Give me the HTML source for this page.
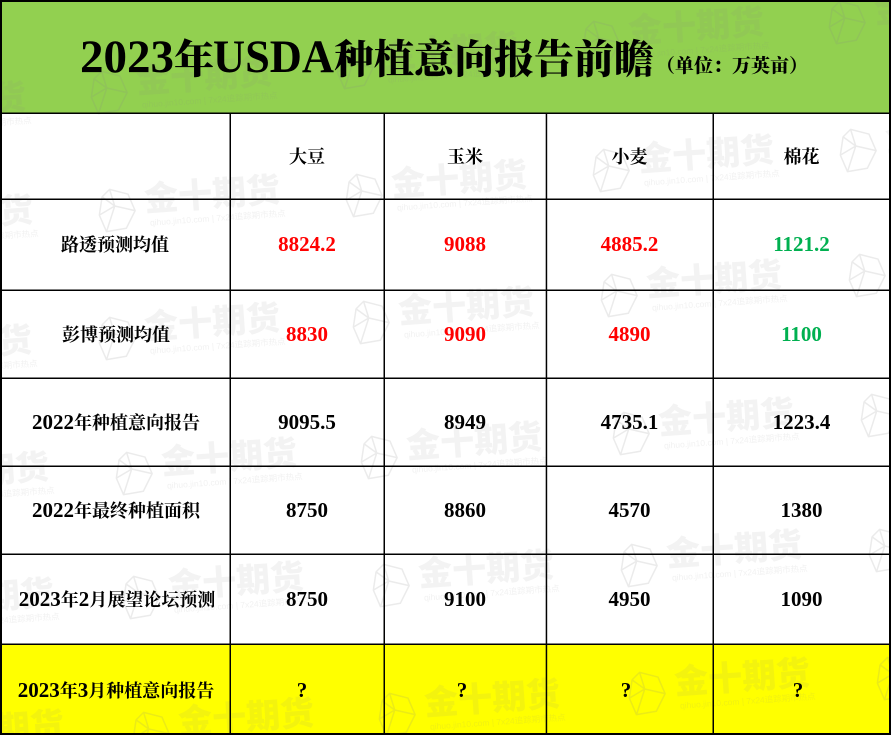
<!DOCTYPE html>
<html>
<head>
<meta charset="utf-8">
<style>
  html, body { margin:0; padding:0; background:#ffffff; }
  body { width:891px; height:735px; overflow:hidden; }
  svg { display:block; }
  .wm { fill:#8a8a8a; fill-opacity:0.10; font-family:"Liberation Sans","Noto Sans CJK SC",sans-serif; font-weight:900; }
  .wmi { fill:none; stroke:#8a8a8a; stroke-opacity:0.17; stroke-width:1.5; stroke-linejoin:round; }
  .wmu { fill:#8a8a8a; fill-opacity:0.12; font-family:"Liberation Sans","Noto Sans CJK SC",sans-serif; font-size:8.5px; }
  .cell { font-family:"Liberation Serif","Noto Serif CJK SC",serif; font-weight:700; font-size:21px; }
  .cj { font-family:"Liberation Serif","Noto Serif CJK SC",serif; font-size:18px; font-weight:700; }
  .red { fill:#ff0000; }
  .grn { fill:#00b050; }
  .blk { fill:#000000; }
</style>
</head>
<body>
<svg width="891" height="735" viewBox="0 0 891 735" xmlns="http://www.w3.org/2000/svg">
  <!-- backgrounds -->
  <rect x="0" y="0" width="891" height="735" fill="#ffffff"/>
  <rect x="0" y="0" width="890" height="113" fill="#92d050"/>
  <rect x="0" y="644" width="890" height="90" fill="#ffff00"/>

  <!-- watermarks -->
  <g>
    <!-- row A -->
    <g transform="translate(-111,87) rotate(-4)"><path class="wmi" d="M-34,7 L-16,13 L-10,30 L-20,47 L-40,49 L-46,32 L-42,14 Z M-34,7 L-30,24 L-10,30 M-30,24 L-40,49 M-30,24 L-46,32 M-42,14 L-30,24"/><text class="wm" x="0" y="31" font-size="34">金十期货</text><text class="wmu" x="4" y="46">qihuo.jin10.com | 7x24追踪期市热点</text></g>
    <g transform="translate(135,62) rotate(-4)"><path class="wmi" d="M-34,7 L-16,13 L-10,30 L-20,47 L-40,49 L-46,32 L-42,14 Z M-34,7 L-30,24 L-10,30 M-30,24 L-40,49 M-30,24 L-46,32 M-42,14 L-30,24"/><text class="wm" x="0" y="31" font-size="34">金十期货</text><text class="wmu" x="4" y="46">qihuo.jin10.com | 7x24追踪期市热点</text></g>
    <g transform="translate(381,37) rotate(-4)"><path class="wmi" d="M-34,7 L-16,13 L-10,30 L-20,47 L-40,49 L-46,32 L-42,14 Z M-34,7 L-30,24 L-10,30 M-30,24 L-40,49 M-30,24 L-46,32 M-42,14 L-30,24"/><text class="wm" x="0" y="31" font-size="34">金十期货</text><text class="wmu" x="4" y="46">qihuo.jin10.com | 7x24追踪期市热点</text></g>
    <g transform="translate(627,12) rotate(-4)"><path class="wmi" d="M-34,7 L-16,13 L-10,30 L-20,47 L-40,49 L-46,32 L-42,14 Z M-34,7 L-30,24 L-10,30 M-30,24 L-40,49 M-30,24 L-46,32 M-42,14 L-30,24"/><text class="wm" x="0" y="31" font-size="34">金十期货</text><text class="wmu" x="4" y="46">qihuo.jin10.com | 7x24追踪期市热点</text></g>
    <g transform="translate(873,-8) rotate(-4)"><path class="wmi" d="M-34,7 L-16,13 L-10,30 L-20,47 L-40,49 L-46,32 L-42,14 Z M-34,7 L-30,24 L-10,30 M-30,24 L-40,49 M-30,24 L-46,32 M-42,14 L-30,24"/><text class="wm" x="0" y="31" font-size="34">金十期货</text></g>
    <!-- row B -->
    <g transform="translate(-104,200) rotate(-4)"><text class="wm" x="0" y="31" font-size="34">金十期货</text><text class="wmu" x="4" y="46">qihuo.jin10.com | 7x24追踪期市热点</text></g>
    <g transform="translate(143,180) rotate(-4)"><path class="wmi" d="M-34,7 L-16,13 L-10,30 L-20,47 L-40,49 L-46,32 L-42,14 Z M-34,7 L-30,24 L-10,30 M-30,24 L-40,49 M-30,24 L-46,32 M-42,14 L-30,24"/><text class="wm" x="0" y="31" font-size="34">金十期货</text><text class="wmu" x="4" y="46">qihuo.jin10.com | 7x24追踪期市热点</text></g>
    <g transform="translate(390,165) rotate(-4)"><path class="wmi" d="M-34,7 L-16,13 L-10,30 L-20,47 L-40,49 L-46,32 L-42,14 Z M-34,7 L-30,24 L-10,30 M-30,24 L-40,49 M-30,24 L-46,32 M-42,14 L-30,24"/><text class="wm" x="0" y="31" font-size="34">金十期货</text><text class="wmu" x="4" y="46">qihuo.jin10.com | 7x24追踪期市热点</text></g>
    <g transform="translate(637,140) rotate(-4)"><path class="wmi" d="M-34,7 L-16,13 L-10,30 L-20,47 L-40,49 L-46,32 L-42,14 Z M-34,7 L-30,24 L-10,30 M-30,24 L-40,49 M-30,24 L-46,32 M-42,14 L-30,24"/><text class="wm" x="0" y="31" font-size="34">金十期货</text><text class="wmu" x="4" y="46">qihuo.jin10.com | 7x24追踪期市热点</text></g>
    <g transform="translate(884,120) rotate(-4)"><path class="wmi" d="M-34,7 L-16,13 L-10,30 L-20,47 L-40,49 L-46,32 L-42,14 Z M-34,7 L-30,24 L-10,30 M-30,24 L-40,49 M-30,24 L-46,32 M-42,14 L-30,24"/><text class="wm" x="0" y="31" font-size="34">金十期货</text></g>
    <!-- row C -->
    <g transform="translate(-105,330) rotate(-4)"><text class="wm" x="0" y="31" font-size="34">金十期货</text><text class="wmu" x="4" y="46">qihuo.jin10.com | 7x24追踪期市热点</text></g>
    <g transform="translate(143,308) rotate(-4)"><path class="wmi" d="M-34,7 L-16,13 L-10,30 L-20,47 L-40,49 L-46,32 L-42,14 Z M-34,7 L-30,24 L-10,30 M-30,24 L-40,49 M-30,24 L-46,32 M-42,14 L-30,24"/><text class="wm" x="0" y="31" font-size="34">金十期货</text><text class="wmu" x="4" y="46">qihuo.jin10.com | 7x24追踪期市热点</text></g>
    <g transform="translate(397,292) rotate(-4)"><path class="wmi" d="M-34,7 L-16,13 L-10,30 L-20,47 L-40,49 L-46,32 L-42,14 Z M-34,7 L-30,24 L-10,30 M-30,24 L-40,49 M-30,24 L-46,32 M-42,14 L-30,24"/><text class="wm" x="0" y="31" font-size="34">金十期货</text><text class="wmu" x="4" y="46">qihuo.jin10.com | 7x24追踪期市热点</text></g>
    <g transform="translate(645,265) rotate(-4)"><path class="wmi" d="M-34,7 L-16,13 L-10,30 L-20,47 L-40,49 L-46,32 L-42,14 Z M-34,7 L-30,24 L-10,30 M-30,24 L-40,49 M-30,24 L-46,32 M-42,14 L-30,24"/><text class="wm" x="0" y="31" font-size="34">金十期货</text><text class="wmu" x="4" y="46">qihuo.jin10.com | 7x24追踪期市热点</text></g>
    <g transform="translate(893,245) rotate(-4)"><path class="wmi" d="M-34,7 L-16,13 L-10,30 L-20,47 L-40,49 L-46,32 L-42,14 Z M-34,7 L-30,24 L-10,30 M-30,24 L-40,49 M-30,24 L-46,32 M-42,14 L-30,24"/></g>
    <!-- row D -->
    <g transform="translate(-88,457) rotate(-4)"><text class="wm" x="0" y="31" font-size="34">金十期货</text><text class="wmu" x="4" y="46">qihuo.jin10.com | 7x24追踪期市热点</text></g>
    <g transform="translate(160,443) rotate(-4)"><path class="wmi" d="M-34,7 L-16,13 L-10,30 L-20,47 L-40,49 L-46,32 L-42,14 Z M-34,7 L-30,24 L-10,30 M-30,24 L-40,49 M-30,24 L-46,32 M-42,14 L-30,24"/><text class="wm" x="0" y="31" font-size="34">金十期货</text><text class="wmu" x="4" y="46">qihuo.jin10.com | 7x24追踪期市热点</text></g>
    <g transform="translate(405,427) rotate(-4)"><path class="wmi" d="M-34,7 L-16,13 L-10,30 L-20,47 L-40,49 L-46,32 L-42,14 Z M-34,7 L-30,24 L-10,30 M-30,24 L-40,49 M-30,24 L-46,32 M-42,14 L-30,24"/><text class="wm" x="0" y="31" font-size="34">金十期货</text><text class="wmu" x="4" y="46">qihuo.jin10.com | 7x24追踪期市热点</text></g>
    <g transform="translate(657,403) rotate(-4)"><path class="wmi" d="M-34,7 L-16,13 L-10,30 L-20,47 L-40,49 L-46,32 L-42,14 Z M-34,7 L-30,24 L-10,30 M-30,24 L-40,49 M-30,24 L-46,32 M-42,14 L-30,24"/><text class="wm" x="0" y="31" font-size="34">金十期货</text><text class="wmu" x="4" y="46">qihuo.jin10.com | 7x24追踪期市热点</text></g>
    <g transform="translate(905,385) rotate(-4)"><path class="wmi" d="M-34,7 L-16,13 L-10,30 L-20,47 L-40,49 L-46,32 L-42,14 Z M-34,7 L-30,24 L-10,30 M-30,24 L-40,49 M-30,24 L-46,32 M-42,14 L-30,24"/></g>
    <!-- row E -->
    <g transform="translate(-83,583) rotate(-4)"><text class="wm" x="0" y="31" font-size="34">金十期货</text><text class="wmu" x="4" y="46">qihuo.jin10.com | 7x24追踪期市热点</text></g>
    <g transform="translate(167,567) rotate(-4)"><path class="wmi" d="M-34,7 L-16,13 L-10,30 L-20,47 L-40,49 L-46,32 L-42,14 Z M-34,7 L-30,24 L-10,30 M-30,24 L-40,49 M-30,24 L-46,32 M-42,14 L-30,24"/><text class="wm" x="0" y="31" font-size="34">金十期货</text><text class="wmu" x="4" y="46">qihuo.jin10.com | 7x24追踪期市热点</text></g>
    <g transform="translate(417,555) rotate(-4)"><path class="wmi" d="M-34,7 L-16,13 L-10,30 L-20,47 L-40,49 L-46,32 L-42,14 Z M-34,7 L-30,24 L-10,30 M-30,24 L-40,49 M-30,24 L-46,32 M-42,14 L-30,24"/><text class="wm" x="0" y="31" font-size="34">金十期货</text><text class="wmu" x="4" y="46">qihuo.jin10.com | 7x24追踪期市热点</text></g>
    <g transform="translate(665,535) rotate(-4)"><path class="wmi" d="M-34,7 L-16,13 L-10,30 L-20,47 L-40,49 L-46,32 L-42,14 Z M-34,7 L-30,24 L-10,30 M-30,24 L-40,49 M-30,24 L-46,32 M-42,14 L-30,24"/><text class="wm" x="0" y="31" font-size="34">金十期货</text><text class="wmu" x="4" y="46">qihuo.jin10.com | 7x24追踪期市热点</text></g>
    <g transform="translate(913,520) rotate(-4)"><path class="wmi" d="M-34,7 L-16,13 L-10,30 L-20,47 L-40,49 L-46,32 L-42,14 Z M-34,7 L-30,24 L-10,30 M-30,24 L-40,49 M-30,24 L-46,32 M-42,14 L-30,24"/></g>
    <!-- row F -->
    <g transform="translate(-73,715) rotate(-4)"><text class="wm" x="0" y="31" font-size="34">金十期货</text></g>
    <g transform="translate(177,703) rotate(-4)"><path class="wmi" d="M-34,7 L-16,13 L-10,30 L-20,47 L-40,49 L-46,32 L-42,14 Z M-34,7 L-30,24 L-10,30 M-30,24 L-40,49 M-30,24 L-46,32 M-42,14 L-30,24"/><text class="wm" x="0" y="31" font-size="34">金十期货</text></g>
    <g transform="translate(423,684) rotate(-4)"><path class="wmi" d="M-34,7 L-16,13 L-10,30 L-20,47 L-40,49 L-46,32 L-42,14 Z M-34,7 L-30,24 L-10,30 M-30,24 L-40,49 M-30,24 L-46,32 M-42,14 L-30,24"/><text class="wm" x="0" y="31" font-size="34">金十期货</text><text class="wmu" x="4" y="46">qihuo.jin10.com | 7x24追踪期市热点</text></g>
    <g transform="translate(673,663) rotate(-4)"><path class="wmi" d="M-34,7 L-16,13 L-10,30 L-20,47 L-40,49 L-46,32 L-42,14 Z M-34,7 L-30,24 L-10,30 M-30,24 L-40,49 M-30,24 L-46,32 M-42,14 L-30,24"/><text class="wm" x="0" y="31" font-size="34">金十期货</text><text class="wmu" x="4" y="46">qihuo.jin10.com | 7x24追踪期市热点</text></g>
    <g transform="translate(921,648) rotate(-4)"><path class="wmi" d="M-34,7 L-16,13 L-10,30 L-20,47 L-40,49 L-46,32 L-42,14 Z M-34,7 L-30,24 L-10,30 M-30,24 L-40,49 M-30,24 L-46,32 M-42,14 L-30,24"/></g>
  </g>

  <!-- grid lines -->
  <g fill="#000000">
    <rect x="0" y="0" width="891" height="2"/>
    <rect x="0" y="0" width="2" height="735"/>
    <rect x="889" y="0" width="2" height="735"/>
    <rect x="0" y="733" width="891" height="2"/>
    <rect x="0" y="112.5" width="891" height="1.5"/>
    <rect x="0" y="198.5" width="891" height="1.5"/>
    <rect x="0" y="289.5" width="891" height="1.5"/>
    <rect x="0" y="377.5" width="891" height="1.5"/>
    <rect x="0" y="465.5" width="891" height="1.5"/>
    <rect x="0" y="553.5" width="891" height="1.5"/>
    <rect x="0" y="643.5" width="891" height="1.5"/>
    <rect x="229.5" y="113" width="1.5" height="622"/>
    <rect x="383.5" y="113" width="1.5" height="622"/>
    <rect x="545.7" y="113" width="1.5" height="622"/>
    <rect x="712.5" y="113" width="1.5" height="622"/>
  </g>

  <!-- title -->
  <g fill="#000000">
    <text x="80" y="72" font-family="Liberation Serif, serif" font-weight="700" font-size="47">2023</text>
    <text x="174" y="73" font-family="Noto Serif CJK SC, serif" font-weight="900" font-size="40">年</text>
    <text x="213" y="72" font-family="Liberation Serif, serif" font-weight="700" font-size="47" textLength="121" lengthAdjust="spacingAndGlyphs">USDA</text>
    <text x="334" y="73" font-family="Noto Serif CJK SC, serif" font-weight="900" font-size="40">种植意向报告前瞻</text>
    <text x="656" y="72" font-family="Noto Serif CJK SC, serif" font-weight="900" font-size="19">（单位：万英亩）</text>
  </g>

  <!-- column headers -->
  <g class="cell blk" text-anchor="middle">
    <text x="307" y="163"><tspan class="cj">大豆</tspan></text>
    <text x="465" y="163"><tspan class="cj">玉米</tspan></text>
    <text x="629.5" y="163"><tspan class="cj">小麦</tspan></text>
    <text x="801.5" y="163"><tspan class="cj">棉花</tspan></text>
  </g>

  <!-- row labels -->
  <g class="cell blk" text-anchor="middle">
    <text x="115" y="251"><tspan class="cj">路透预测均值</tspan></text>
    <text x="116" y="341"><tspan class="cj">彭博预测均值</tspan></text>
    <text x="116" y="429">2022<tspan class="cj">年种植意向报告</tspan></text>
    <text x="116" y="517">2022<tspan class="cj">年最终种植面积</tspan></text>
    <text x="117" y="606">2023<tspan class="cj">年</tspan>2<tspan class="cj">月展望论坛预测</tspan></text>
    <text x="116" y="697">2023<tspan class="cj">年</tspan>3<tspan class="cj">月种植意向报告</tspan></text>
  </g>

  <!-- data -->
  <g class="cell" text-anchor="middle">
    <text x="307" y="251" class="red">8824.2</text>
    <text x="465" y="251" class="red">9088</text>
    <text x="629.5" y="251" class="red">4885.2</text>
    <text x="801.5" y="251" class="grn">1121.2</text>

    <text x="307" y="341" class="red">8830</text>
    <text x="465" y="341" class="red">9090</text>
    <text x="629.5" y="341" class="red">4890</text>
    <text x="801.5" y="341" class="grn">1100</text>

    <text x="307" y="429" class="blk">9095.5</text>
    <text x="465" y="429" class="blk">8949</text>
    <text x="629.5" y="429" class="blk">4735.1</text>
    <text x="801.5" y="429" class="blk">1223.4</text>

    <text x="307" y="517" class="blk">8750</text>
    <text x="465" y="517" class="blk">8860</text>
    <text x="629.5" y="517" class="blk">4570</text>
    <text x="801.5" y="517" class="blk">1380</text>

    <text x="307" y="606" class="blk">8750</text>
    <text x="465" y="606" class="blk">9100</text>
    <text x="629.5" y="606" class="blk">4950</text>
    <text x="801.5" y="606" class="blk">1090</text>

    <text x="302" y="697" class="blk">?</text>
    <text x="462" y="697" class="blk">?</text>
    <text x="626" y="697" class="blk">?</text>
    <text x="798" y="697" class="blk">?</text>
  </g>
</svg>
</body>
</html>
